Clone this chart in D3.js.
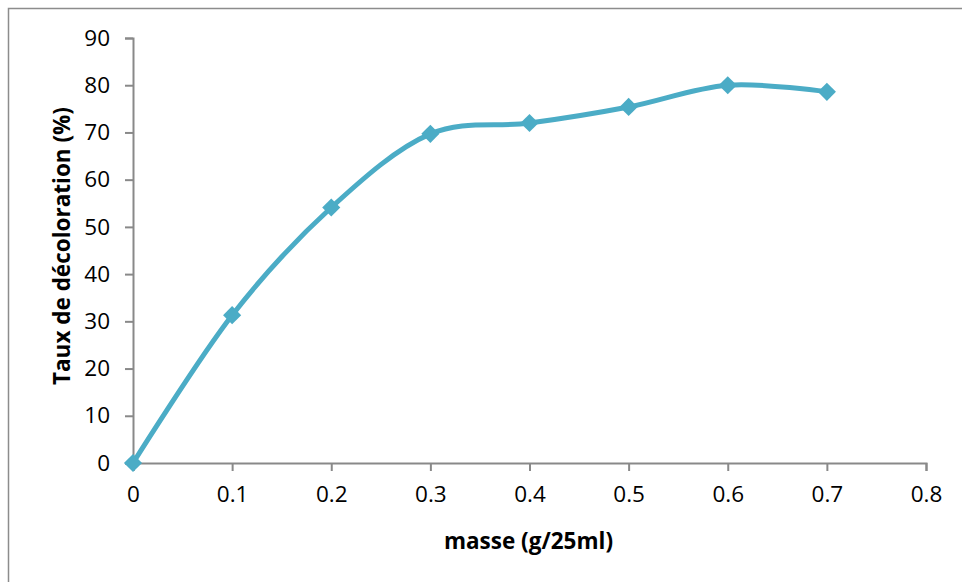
<!DOCTYPE html>
<html>
<head>
<meta charset="utf-8">
<script src="https://cdn.jsdelivr.net/npm/d3@7"></script>
<style>
  body { margin: 0; background: #fff; }
  svg { display: block; }
</style>
</head>
<body>
<div id="chart"></div>
<script>
  // valeurs
  const masses = [0, 0.1, 0.2, 0.3, 0.4, 0.5, 0.6, 0.7];
  const taux = [0, 31.3, 54.1, 69.7, 72.0, 75.4, 80.0, 78.6];
  const xTicks = [0, 0.1, 0.2, 0.3, 0.4, 0.5, 0.6, 0.7, 0.8];
  const yTicks = [0, 10, 20, 30, 40, 50, 60, 70, 80, 90];

  const W = 962, H = 582;
  const margin = { top: 38, left: 133, right: 36, bottom: 119 };
  const width = W - margin.left - margin.right;
  const height = H - margin.top - margin.bottom;

  const lineColor = '#4bacc6';
  const axisColor = '#898989';
  const font = '"Open Sans", "Noto Sans", sans-serif';

  const svg = d3.select('#chart').append('svg')
    .attr('width', W).attr('height', H)
    .attr('font-family', font);

  // cadre du graphique (coupé à droite et en bas)
  svg.append('rect')
    .attr('x', 8.5).attr('y', 8.5)
    .attr('width', W + 20).attr('height', H + 20)
    .attr('fill', 'none').attr('stroke', '#8c8c8c').attr('stroke-width', 1.5);

  const g = svg.append('g')
    .attr('transform', `translate(${margin.left}, ${margin.top})`);

  const x = d3.scaleLinear().domain([0, 0.8]).range([0, width]);
  const y = d3.scaleLinear().domain([0, 90]).range([height, 0]);

  const xAxis = g.append('g')
    .attr('transform', `translate(0, ${height})`)
    .call(d3.axisBottom(x).tickValues(xTicks).tickSize(8).tickPadding(15)
      .tickFormat(d => d === 0 ? '0' : d3.format('.1f')(d)));

  const yAxis = g.append('g')
    .call(d3.axisLeft(y).tickValues(yTicks).tickSize(8).tickPadding(15));

  [xAxis, yAxis].forEach(a => {
    a.attr('font-family', font).attr('font-size', 22.5);
    a.select('.domain').attr('stroke', axisColor).attr('stroke-width', 2);
    a.selectAll('.tick line').attr('stroke', axisColor).attr('stroke-width', 2);
    a.selectAll('.tick text').attr('fill', '#000');
  });

  const line = d3.line()
    .x((d, i) => x(masses[i]))
    .y(d => y(d))
    .curve(d3.curveCardinal.tension(0));

  g.append('path')
    .datum(taux)
    .attr('d', line)
    .attr('fill', 'none')
    .attr('stroke', lineColor)
    .attr('stroke-width', 5)
    .attr('stroke-linejoin', 'round');

  g.selectAll('.pt')
    .data(taux).enter().append('path')
    .attr('class', 'pt')
    .attr('d', d3.symbol().type(d3.symbolDiamond2).size(210))
    .attr('transform', (d, i) => `translate(${x(masses[i])}, ${y(d)})`)
    .attr('fill', lineColor);

  svg.append('text')
    .text('masse (g/25ml)')
    .attr('x', margin.left + width / 2 - 1)
    .attr('y', 549)
    .attr('text-anchor', 'middle')
    .attr('font-size', 22.5).attr('font-weight', 700);

  svg.append('text')
    .text('Taux de décoloration (%)')
    .attr('transform', `translate(70, 246) rotate(-90)`)
    .attr('text-anchor', 'middle')
    .attr('font-size', 22.5).attr('font-weight', 700);
</script>
</body>
</html>
